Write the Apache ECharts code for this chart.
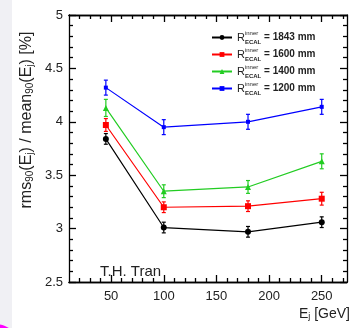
<!DOCTYPE html>
<html>
<head>
<meta charset="utf-8">
<script src="https://cdn.jsdelivr.net/npm/echarts@6/dist/echarts.min.js"></script>
<style>
  html, body { margin: 0; padding: 0; background: #fff; }
  #chart { width: 352px; height: 328px; }
</style>
</head>
<body>
<div id="chart"></div>
<script>
const energies = [45, 100, 180, 250];
const radii = ["1843", "1600", "1400", "1200"];
const colors = ["#000000", "#ff0000", "#22cc22", "#0000ff"];
const symbols = ["circle", "rect", "triangle", "rect"];
const symbolSizes = [6, 6, 6, 4];

const res1843 = [3.84, 3.01, 2.97, 3.06];
const res1600 = [3.97, 3.20, 3.21, 3.28];
const res1400 = [4.13, 3.35, 3.39, 3.63];
const res1200 = [4.32, 3.95, 4.00, 4.14];
const values = [res1843, res1600, res1400, res1200];

const err1843 = [0.05, 0.05, 0.05, 0.05];
const err1600 = [0.06, 0.05, 0.05, 0.06];
const err1400 = [0.08, 0.06, 0.06, 0.07];
const err1200 = [0.07, 0.07, 0.07, 0.07];
const errors = [err1843, err1600, err1400, err1200];

const xTicks = [50, 100, 150, 200, 250];
const xMinorTicks = [20, 30, 40, 60, 70, 80, 90, 110, 120, 130, 140, 160, 170, 180, 190, 210, 220, 230, 240, 260, 270];

const X_MIN = 10, X_MAX = 274;
const font = "Liberation Sans";
const chart = echarts.init(document.getElementById("chart"));

const series = [];
values.forEach((vals, i) => {
  const name = "R" + radii[i];
  series.push({
    name,
    type: "line",
    data: energies.map((e, k) => [e, vals[k]]),
    symbol: symbols[i],
    symbolSize: symbolSizes[i],
    showSymbol: true,
    lineStyle: { color: colors[i], width: 1.2 },
    itemStyle: { color: colors[i] },
    z: 5,
  });
  series.push({
    name,
    type: "custom",
    data: energies.map((e, k) => [e, vals[k] - errors[i][k], vals[k] + errors[i][k]]),
    renderItem: (params, api) => {
      const lo = api.coord([api.value(0), api.value(1)]);
      const hi = api.coord([api.value(0), api.value(2)]);
      const c = 2;
      const st = { stroke: colors[i], lineWidth: 1.2 };
      return {
        type: "group",
        children: [
          { type: "line", shape: { x1: lo[0], y1: lo[1], x2: hi[0], y2: hi[1] }, style: st },
          { type: "line", shape: { x1: lo[0] - c, y1: lo[1], x2: lo[0] + c, y2: lo[1] }, style: st },
          { type: "line", shape: { x1: hi[0] - c, y1: hi[1], x2: hi[0] + c, y2: hi[1] }, style: st },
        ],
      };
    },
    z: 4,
  });
});

const label = { margin: 8, fontSize: 13, fontFamily: font, color: "#222" };
const TICK_W = 1.3;

function xAxisAt(position, ticks, len, labels) {
  return {
    type: "value", min: X_MIN, max: X_MAX, position,
    axisLine: { show: true, onZero: false, lineStyle: { color: "#000", width: TICK_W } },
    axisTick: { show: true, inside: true, length: len, customValues: ticks, lineStyle: { color: "#000", width: TICK_W } },
    axisLabel: labels ? { ...label, customValues: ticks } : { show: false },
    splitLine: { show: false },
  };
}

function yAxisAt(position, labels) {
  return {
    type: "value", min: 2.5, max: 5, interval: 0.5, position,
    axisLine: { show: true, onZero: false, lineStyle: { color: "#000", width: TICK_W } },
    axisTick: { show: true, inside: true, length: 7, lineStyle: { color: "#000", width: TICK_W } },
    minorTick: { show: true, splitNumber: 5, length: 4, lineStyle: { color: "#000", width: TICK_W } },
    axisLabel: labels ? { ...label, margin: 6 } : { show: false },
    splitLine: { show: false },
  };
}

const option = {
  animation: false,
  grid: { left: 69, right: 5, top: 15, bottom: 46 },
  legend: {
    orient: "vertical",
    left: 206,
    top: 25,
    itemWidth: 20,
    itemHeight: 6,
    itemGap: 2,
    data: radii.map((r) => "R" + r),
    formatter: (name) => "{R|R}{sup|inner}{sub|ECAL}{t| = " + name.slice(1) + " mm}",
    textStyle: {
      fontFamily: font,
      color: "#222",
      lineHeight: 15,
      rich: {
        R: { fontSize: 11, fontFamily: font, color: "#222", verticalAlign: "middle" },
        sup: { fontSize: 6, fontFamily: font, color: "#222", width: 0, verticalAlign: "top", padding: [0, 0, 5, 0] },
        sub: { fontSize: 6, fontFamily: font, color: "#222", fontWeight: "bold", verticalAlign: "bottom", padding: [5, 0, 0, 0] },
        t: { fontSize: 10, fontFamily: font, color: "#222", fontWeight: "bold", verticalAlign: "middle" },
      },
    },
  },
  xAxis: [
    xAxisAt("bottom", xTicks, 7, true),
    xAxisAt("top", xTicks, 7, false),
    xAxisAt("bottom", xMinorTicks, 4, false),
    xAxisAt("top", xMinorTicks, 4, false),
  ],
  yAxis: [yAxisAt("left", true), yAxisAt("right", false)],
  graphic: [
    { type: "rect", left: 0, top: 0, shape: { width: 12, height: 328 }, style: { fill: "#f0f0f4" }, z: -1 },
    { type: "circle", shape: { cx: -5, cy: 350, r: 26 }, style: { fill: "#ff00ff" }, z: -1 },
    {
      type: "text",
      x: 27,
      y: 120,
      rotation: Math.PI / 2,
      style: {
        text: "rms{s|90}(E{s|j}) / mean{s|90}(E{s|j}) [%]",
        align: "center",
        verticalAlign: "middle",
        fontSize: 16,
        fontFamily: font,
        fill: "#222",
        rich: {
          s: { fontSize: 10, fontFamily: font, fill: "#222", verticalAlign: "bottom", padding: [7, 0, 0, 0] },
        },
      },
    },
    {
      type: "text",
      right: 2,
      top: 307,
      style: {
        text: "E{s|j} [GeV]",
        fontSize: 14,
        fontFamily: font,
        fill: "#222",
        rich: {
          s: { fontSize: 9, fontFamily: font, fill: "#222", verticalAlign: "bottom", padding: [6, 0, 0, 0] },
        },
      },
    },
    {
      type: "text",
      left: 100,
      top: 264,
      style: { text: "T.H. Tran", fontSize: 15, fontFamily: font, fill: "#222" },
    },
  ],
  series,
};

chart.setOption(option);
</script>
</body>
</html>
